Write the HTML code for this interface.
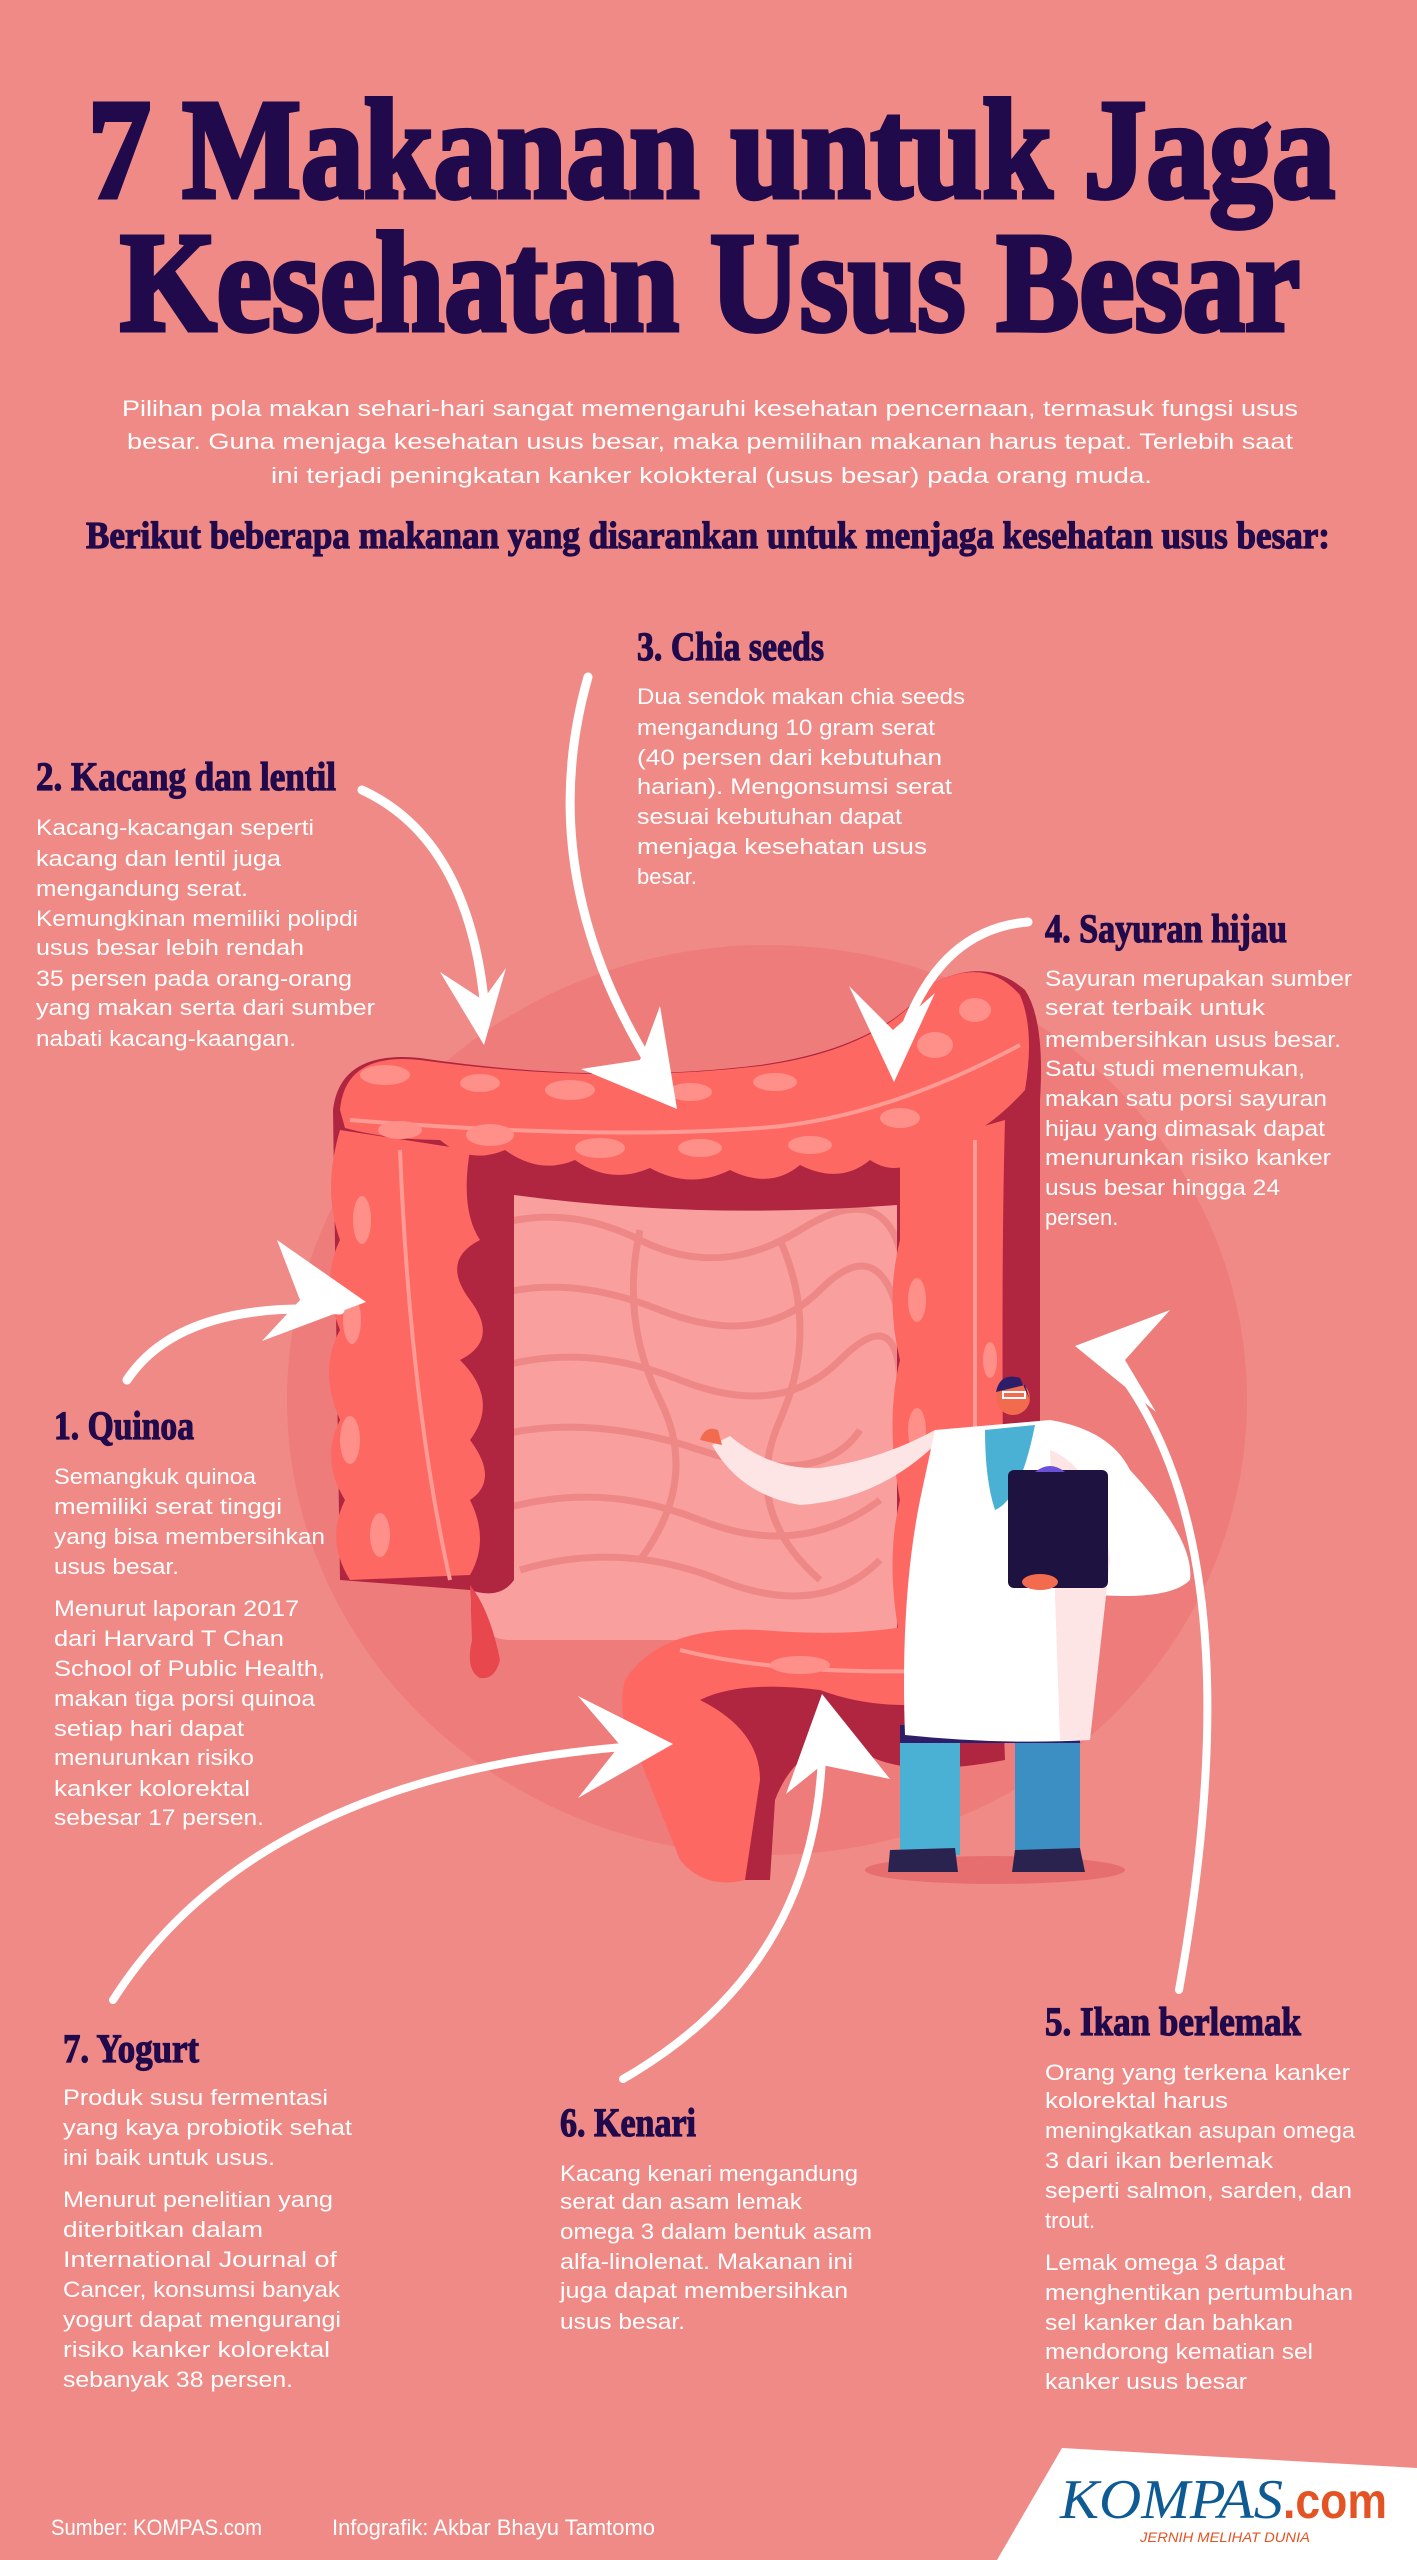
<!DOCTYPE html>
<html><head><meta charset="utf-8"><style>
html,body{margin:0;padding:0;background:#F08A86;}
svg{display:block;}
.h{font-family:"Liberation Serif",serif;font-weight:bold;fill:#200A4C;stroke:#200A4C;stroke-width:1.2px;}
.t{stroke-width:5px;}
.b{font-family:"Liberation Sans",sans-serif;fill:#fff;font-size:22px;}
</style></head><body>
<svg width="1417" height="2560" viewBox="0 0 1417 2560" xmlns="http://www.w3.org/2000/svg">
<rect width="1417" height="2560" fill="#F08A86"/>

<!-- Title -->
<text class="h t" x="88" y="197" font-size="142" textLength="1247" lengthAdjust="spacingAndGlyphs">7 Makanan untuk Jaga</text>
<text class="h t" x="120" y="330" font-size="142" textLength="1180" lengthAdjust="spacingAndGlyphs">Kesehatan Usus Besar</text>

<text class="b" x="122" y="416" font-size="25" textLength="1176" lengthAdjust="spacingAndGlyphs">Pilihan pola makan sehari-hari sangat memengaruhi kesehatan pencernaan, termasuk fungsi usus</text>
<text class="b" x="127" y="449" font-size="25" textLength="1166" lengthAdjust="spacingAndGlyphs">besar. Guna menjaga kesehatan usus besar, maka pemilihan makanan harus tepat. Terlebih saat</text>
<text class="b" x="271" y="483" font-size="25" textLength="881" lengthAdjust="spacingAndGlyphs">ini terjadi peningkatan kanker kolokteral (usus besar) pada orang muda.</text>

<text class="h" x="86" y="548" font-size="38" textLength="1244" lengthAdjust="spacingAndGlyphs">Berikut beberapa makanan yang disarankan untuk menjaga kesehatan usus besar:</text>

<!-- Illustration background circle -->
<ellipse cx="767" cy="1400" rx="480" ry="455" fill="#EE7C7B"/>
<!-- interior -->
<rect x="470" y="1170" width="440" height="470" rx="40" fill="#F9A09E"/>
<g fill="none" stroke="#EE8886" stroke-width="7">
<path d="M480,1230 Q560,1200 640,1240 T800,1230 T900,1250"/>
<path d="M480,1300 Q560,1270 660,1310 T820,1290 T900,1320"/>
<path d="M490,1370 Q580,1340 680,1380 T840,1360 T900,1390"/>
<path d="M480,1440 Q580,1410 700,1450 T860,1430"/>
<path d="M500,1510 Q600,1480 700,1520 T880,1500"/>
<path d="M520,1570 Q620,1540 720,1580 T880,1560"/>
<path d="M640,1230 Q620,1320 660,1400 T640,1560"/>
<path d="M780,1240 Q820,1330 780,1420 T820,1580"/>
</g>

<!-- colon dark base -->
<path fill="#B02540" d="M333,1110 Q340,1050 420,1058 Q600,1085 760,1065 Q880,1048 930,985 Q985,955 1025,990 Q1045,1020 1040,1100 L1040,1640 L897,1640 L897,1205 Q700,1220 514,1195 L514,1580 Q500,1600 470,1590 L340,1580 Z"/>
<path fill="#FE6863" d="M340,1110 Q345,1052 420,1060 Q600,1085 760,1066 Q880,1050 930,985 Q985,955 1020,995 Q1035,1030 1025,1090 Q980,1140 930,1150 Q900,1180 870,1160 Q840,1185 800,1165 Q770,1190 730,1170 Q690,1190 650,1168 Q610,1185 575,1160 Q540,1175 505,1150 Q470,1165 440,1140 Q390,1140 345,1128 Z"/>
<path d="M350,1120 Q600,1140 760,1128 Q880,1120 1020,1045" stroke="#FF9A94" stroke-width="4" fill="none"/>
<path fill="#FE6863" d="M340,1130 L470,1150 Q460,1210 480,1240 Q440,1260 470,1300 Q500,1340 460,1360 Q500,1400 470,1440 Q500,1480 470,1500 Q490,1540 470,1575 L350,1580 Q325,1540 345,1500 Q320,1460 340,1420 Q318,1370 340,1330 Q320,1280 340,1240 Q322,1190 340,1130 Z"/>
<path d="M400,1150 Q410,1400 450,1580" stroke="#FF9A94" stroke-width="4" fill="none"/>
<path fill="#FE6863" d="M900,1150 L1005,1120 Q1000,1300 1005,1640 L900,1640 Q885,1560 900,1500 Q885,1420 900,1360 Q885,1300 900,1240 Z"/>
<path d="M975,1140 L975,1640" stroke="#FF9A94" stroke-width="4"/>
<g fill="#FF8F89">
<ellipse cx="385" cy="1075" rx="25" ry="10"/><ellipse cx="480" cy="1083" rx="20" ry="9"/><ellipse cx="570" cy="1090" rx="25" ry="10"/><ellipse cx="690" cy="1092" rx="22" ry="9"/><ellipse cx="775" cy="1082" rx="22" ry="9"/><ellipse cx="935" cy="1045" rx="18" ry="13"/><ellipse cx="975" cy="1010" rx="16" ry="12"/>
<ellipse cx="400" cy="1130" rx="22" ry="9"/><ellipse cx="490" cy="1135" rx="24" ry="11"/><ellipse cx="600" cy="1148" rx="25" ry="10"/><ellipse cx="700" cy="1148" rx="22" ry="9"/><ellipse cx="810" cy="1145" rx="22" ry="9"/><ellipse cx="900" cy="1118" rx="20" ry="10"/>
<ellipse cx="362" cy="1220" rx="9" ry="24"/><ellipse cx="352" cy="1320" rx="9" ry="24"/><ellipse cx="350" cy="1440" rx="10" ry="24"/><ellipse cx="380" cy="1535" rx="10" ry="22"/>
<ellipse cx="917" cy="1300" rx="9" ry="22"/><ellipse cx="917" cy="1430" rx="9" ry="22"/><ellipse cx="990" cy="1360" rx="7" ry="18"/>
</g>
<path d="M470,1585 Q490,1610 500,1660 Q495,1680 480,1678 Q465,1670 472,1640 Z" fill="#E8474E"/>
<path fill="#B02540" d="M640,1680 Q700,1640 800,1650 Q900,1660 960,1620 L1000,1620 L1005,1760 Q900,1780 860,1750 Q800,1735 775,1800 L770,1880 L740,1880 L690,1760 Z"/>
<path fill="#FE6863" d="M625,1680 Q660,1625 760,1630 Q880,1640 950,1615 L1000,1620 L1000,1690 Q900,1720 820,1690 Q740,1680 700,1700 Q760,1730 760,1780 L745,1880 Q705,1890 680,1860 L640,1760 Q615,1720 625,1680 Z"/>
<path d="M680,1650 Q800,1680 1000,1668" stroke="#FF9A94" stroke-width="4" fill="none"/>
<ellipse cx="800" cy="1665" rx="30" ry="9" fill="#FF8F89"/>

<!-- doctor -->
<ellipse cx="995" cy="1870" rx="130" ry="14" fill="#E66E6E"/>
<rect x="900" y="1735" width="60" height="120" fill="#4AB1D4"/>
<rect x="1015" y="1735" width="65" height="120" fill="#3B8FC3"/>
<path d="M890,1850 L955,1848 L958,1872 L888,1872 Z" fill="#2A2350"/>
<path d="M1015,1850 L1080,1848 L1085,1872 L1012,1872 Z" fill="#2A2350"/>
<rect x="900" y="1725" width="180" height="18" fill="#2E1E6A"/>
<path fill="#FDE4E5" d="M940,1440 Q880,1500 800,1505 Q740,1495 712,1445 L730,1436 Q770,1470 820,1468 Q880,1460 935,1430 Z"/>
<path fill="#FFFFFF" d="M935,1430 L1050,1420 Q1110,1430 1130,1470 Q1195,1540 1190,1580 Q1170,1600 1100,1595 L1090,1740 Q1000,1745 905,1735 Q900,1600 920,1500 Z"/>
<path d="M1050,1450 Q1100,1470 1110,1560 L1090,1740 L1060,1740 Z" fill="#FDE4E5"/>
<path d="M985,1430 L1035,1425 Q1020,1500 995,1510 Q985,1480 985,1430 Z" fill="#4AB1D4"/>
<circle cx="1013" cy="1398" r="17" fill="#F36B4F"/>
<path d="M996,1392 Q1000,1372 1020,1378 L1030,1400 L1025,1385 Z" fill="#2E1E6A"/>
<rect x="1003" y="1392" width="22" height="6" fill="none" stroke="#fff" stroke-width="2"/>
<path d="M700,1440 Q705,1425 718,1430 L722,1445 Z" fill="#F36B4F"/>
<rect x="1008" y="1470" width="100" height="118" rx="6" fill="#1E1240"/>
<path d="M1035,1472 Q1050,1460 1065,1472 Z" fill="#6B4FD8"/>
<ellipse cx="1040" cy="1582" rx="18" ry="8" fill="#F36B4F"/>

<!-- arrows -->
<g fill="none" stroke="#fff" stroke-linecap="round">
<path d="M362,790 Q470,840 485,1010" stroke-width="9"/>
<path d="M588,677 Q530,880 660,1080" stroke-width="9"/>
<path d="M1028,922 Q930,930 895,1060" stroke-width="9"/>
<path d="M127,1380 Q180,1300 340,1310" stroke-width="9"/>
<path d="M1179,1990 Q1260,1540 1110,1360" stroke-width="8"/>
<path d="M623,2079 Q830,1960 822,1720" stroke-width="8"/>
<path d="M113,2000 Q260,1770 650,1745" stroke-width="8"/>
</g>
<g fill="#fff">
<polygon points="484,1045 440,972 483,1000 506,968"/>
<polygon points="677,1109 581,1069 640,1060 660,1006"/>
<polygon points="894,1082 849,986 893,1030 935,993"/>
<polygon points="366,1302 262,1341 300,1300 277,1240"/>
<polygon points="1075,1346 1170,1310 1125,1360 1156,1412"/>
<polygon points="822,1694 786,1794 822,1765 890,1779"/>
<polygon points="673,1744 578,1696 620,1745 578,1798"/>
</g>

<!-- Sections -->
<text class="h" x="637" y="660" font-size="40" textLength="187" lengthAdjust="spacingAndGlyphs">3. Chia seeds</text>
<text class="b" x="637" y="704" textLength="328" lengthAdjust="spacingAndGlyphs">Dua sendok makan chia seeds</text>
<text class="b" x="637" y="735" textLength="298" lengthAdjust="spacingAndGlyphs">mengandung 10 gram serat</text>
<text class="b" x="637" y="765" textLength="305" lengthAdjust="spacingAndGlyphs"> (40 persen dari kebutuhan</text>
<text class="b" x="637" y="794" textLength="315" lengthAdjust="spacingAndGlyphs">harian).  Mengonsumsi serat</text>
<text class="b" x="637" y="824" textLength="265" lengthAdjust="spacingAndGlyphs">sesuai  kebutuhan dapat</text>
<text class="b" x="637" y="854" textLength="290" lengthAdjust="spacingAndGlyphs">menjaga    kesehatan usus</text>
<text class="b" x="637" y="884">besar.</text>

<text class="h" x="36" y="790" font-size="40" textLength="300" lengthAdjust="spacingAndGlyphs">2. Kacang dan lentil</text>
<text class="b" x="36" y="835" textLength="278" lengthAdjust="spacingAndGlyphs">Kacang-kacangan seperti</text>
<text class="b" x="36" y="866" textLength="245" lengthAdjust="spacingAndGlyphs">kacang dan lentil juga</text>
<text class="b" x="36" y="896" textLength="212" lengthAdjust="spacingAndGlyphs">mengandung serat.</text>
<text class="b" x="36" y="926" textLength="322" lengthAdjust="spacingAndGlyphs">Kemungkinan memiliki polipdi</text>
<text class="b" x="36" y="955" textLength="268" lengthAdjust="spacingAndGlyphs">usus besar lebih rendah</text>
<text class="b" x="36" y="986" textLength="316" lengthAdjust="spacingAndGlyphs">35 persen pada orang-orang</text>
<text class="b" x="36" y="1015" textLength="339" lengthAdjust="spacingAndGlyphs">yang makan serta dari sumber</text>
<text class="b" x="36" y="1046" textLength="260" lengthAdjust="spacingAndGlyphs">nabati kacang-kaangan.</text>

<text class="h" x="1045" y="942" font-size="40" textLength="242" lengthAdjust="spacingAndGlyphs">4. Sayuran hijau</text>
<text class="b" x="1045" y="986" textLength="307" lengthAdjust="spacingAndGlyphs">Sayuran merupakan sumber</text>
<text class="b" x="1045" y="1015" textLength="220" lengthAdjust="spacingAndGlyphs">serat terbaik untuk</text>
<text class="b" x="1045" y="1047" textLength="296" lengthAdjust="spacingAndGlyphs">membersihkan usus besar.</text>
<text class="b" x="1045" y="1076" textLength="260" lengthAdjust="spacingAndGlyphs">Satu studi menemukan,</text>
<text class="b" x="1045" y="1106" textLength="282" lengthAdjust="spacingAndGlyphs">makan satu porsi sayuran</text>
<text class="b" x="1045" y="1136" textLength="280" lengthAdjust="spacingAndGlyphs">hijau yang dimasak dapat</text>
<text class="b" x="1045" y="1165" textLength="286" lengthAdjust="spacingAndGlyphs">menurunkan risiko kanker</text>
<text class="b" x="1045" y="1195" textLength="235" lengthAdjust="spacingAndGlyphs">usus besar hingga 24</text>
<text class="b" x="1045" y="1225">persen.</text>

<text class="h" x="54" y="1439" font-size="40" textLength="140" lengthAdjust="spacingAndGlyphs">1. Quinoa</text>
<text class="b" x="54" y="1484" textLength="202" lengthAdjust="spacingAndGlyphs">Semangkuk quinoa</text>
<text class="b" x="54" y="1514" textLength="228" lengthAdjust="spacingAndGlyphs">memiliki serat tinggi</text>
<text class="b" x="54" y="1544" textLength="271" lengthAdjust="spacingAndGlyphs">yang bisa membersihkan</text>
<text class="b" x="54" y="1574" textLength="125" lengthAdjust="spacingAndGlyphs">usus besar.</text>
<text class="b" x="54" y="1616" textLength="245" lengthAdjust="spacingAndGlyphs">Menurut laporan 2017</text>
<text class="b" x="54" y="1646" textLength="230" lengthAdjust="spacingAndGlyphs">dari Harvard T Chan</text>
<text class="b" x="54" y="1676" textLength="271" lengthAdjust="spacingAndGlyphs">School of Public Health,</text>
<text class="b" x="54" y="1706" textLength="261" lengthAdjust="spacingAndGlyphs">makan tiga porsi quinoa</text>
<text class="b" x="54" y="1736" textLength="190" lengthAdjust="spacingAndGlyphs">setiap hari dapat</text>
<text class="b" x="54" y="1765" textLength="200" lengthAdjust="spacingAndGlyphs">menurunkan risiko</text>
<text class="b" x="54" y="1796" textLength="196" lengthAdjust="spacingAndGlyphs">kanker kolorektal</text>
<text class="b" x="54" y="1825" textLength="210" lengthAdjust="spacingAndGlyphs">sebesar 17 persen.</text>

<text class="h" x="1045" y="2035" font-size="40" textLength="256" lengthAdjust="spacingAndGlyphs">5. Ikan berlemak</text>
<text class="b" x="1045" y="2080" textLength="305" lengthAdjust="spacingAndGlyphs">Orang yang terkena kanker</text>
<text class="b" x="1045" y="2108" textLength="183" lengthAdjust="spacingAndGlyphs">kolorektal harus</text>
<text class="b" x="1045" y="2138" textLength="310" lengthAdjust="spacingAndGlyphs">meningkatkan asupan omega</text>
<text class="b" x="1045" y="2168" textLength="228" lengthAdjust="spacingAndGlyphs">3 dari ikan berlemak</text>
<text class="b" x="1045" y="2198" textLength="307" lengthAdjust="spacingAndGlyphs">seperti salmon, sarden, dan</text>
<text class="b" x="1045" y="2228">trout.</text>
<text class="b" x="1045" y="2270" textLength="240" lengthAdjust="spacingAndGlyphs">Lemak omega 3 dapat</text>
<text class="b" x="1045" y="2300" textLength="308" lengthAdjust="spacingAndGlyphs">menghentikan pertumbuhan</text>
<text class="b" x="1045" y="2330" textLength="248" lengthAdjust="spacingAndGlyphs">sel kanker dan bahkan</text>
<text class="b" x="1045" y="2359" textLength="268" lengthAdjust="spacingAndGlyphs">mendorong kematian sel</text>
<text class="b" x="1045" y="2389" textLength="202" lengthAdjust="spacingAndGlyphs">kanker usus besar</text>

<text class="h" x="63" y="2062" font-size="40" textLength="136" lengthAdjust="spacingAndGlyphs">7. Yogurt</text>
<text class="b" x="63" y="2105" textLength="265" lengthAdjust="spacingAndGlyphs">Produk susu fermentasi</text>
<text class="b" x="63" y="2135" textLength="289" lengthAdjust="spacingAndGlyphs">yang kaya probiotik sehat</text>
<text class="b" x="63" y="2165" textLength="212" lengthAdjust="spacingAndGlyphs">ini baik untuk usus.</text>
<text class="b" x="63" y="2207" textLength="270" lengthAdjust="spacingAndGlyphs">Menurut penelitian yang</text>
<text class="b" x="63" y="2237" textLength="200" lengthAdjust="spacingAndGlyphs">diterbitkan dalam</text>
<text class="b" x="63" y="2267" textLength="274" lengthAdjust="spacingAndGlyphs">International Journal of</text>
<text class="b" x="63" y="2297" textLength="277" lengthAdjust="spacingAndGlyphs">Cancer, konsumsi banyak</text>
<text class="b" x="63" y="2327" textLength="278" lengthAdjust="spacingAndGlyphs">yogurt dapat mengurangi</text>
<text class="b" x="63" y="2357" textLength="267" lengthAdjust="spacingAndGlyphs">risiko kanker kolorektal</text>
<text class="b" x="63" y="2387" textLength="230" lengthAdjust="spacingAndGlyphs">sebanyak 38 persen.</text>

<text class="h" x="560" y="2136" font-size="40" textLength="136" lengthAdjust="spacingAndGlyphs">6. Kenari</text>
<text class="b" x="560" y="2181" textLength="298" lengthAdjust="spacingAndGlyphs">Kacang kenari mengandung</text>
<text class="b" x="560" y="2209" textLength="242" lengthAdjust="spacingAndGlyphs">serat dan asam lemak</text>
<text class="b" x="560" y="2239" textLength="312" lengthAdjust="spacingAndGlyphs">omega 3 dalam bentuk asam</text>
<text class="b" x="560" y="2269" textLength="293" lengthAdjust="spacingAndGlyphs">alfa-linolenat. Makanan ini</text>
<text class="b" x="560" y="2298" textLength="288" lengthAdjust="spacingAndGlyphs">juga dapat membersihkan</text>
<text class="b" x="560" y="2329" textLength="125" lengthAdjust="spacingAndGlyphs">usus besar.</text>

<!-- footer -->
<text class="b" x="51" y="2535" font-size="20" textLength="211" lengthAdjust="spacingAndGlyphs">Sumber: KOMPAS.com</text>
<text class="b" x="332" y="2535" font-size="20" textLength="323" lengthAdjust="spacingAndGlyphs">Infografik: Akbar Bhayu Tamtomo</text>
<polygon points="1062,2448 1417,2468 1417,2560 997,2560" fill="#fff"/>
<text x="1060" y="2518" font-family="Liberation Serif,serif" font-style="italic" font-size="56" fill="#0E5A93" textLength="223" lengthAdjust="spacingAndGlyphs">KOMPAS</text>
<text x="1283" y="2518" font-family="Liberation Sans,sans-serif" font-weight="bold" font-size="50" fill="#E35324" textLength="104" lengthAdjust="spacingAndGlyphs">.com</text>
<text x="1140" y="2542" font-family="Liberation Sans,sans-serif" font-style="italic" font-size="14" fill="#E35324" textLength="170" lengthAdjust="spacingAndGlyphs">JERNIH MELIHAT DUNIA</text>
</svg>
</body></html>
